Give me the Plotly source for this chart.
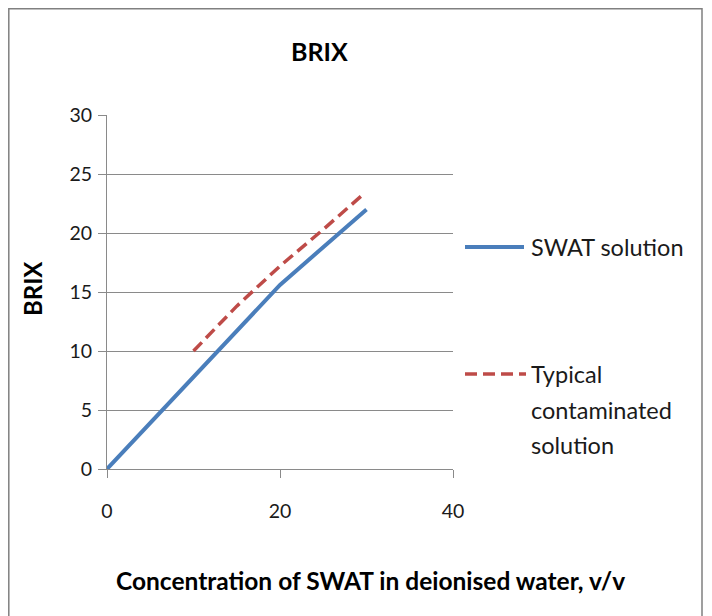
import plotly.graph_objects as go

# Data
swat_x = [0, 10, 20, 30]
swat_y = [0, 7.8, 15.6, 22.0]
typ_x = [10, 15, 20, 25, 29.5]
typ_y = [10, 13.8, 17.2, 20.3, 23.2]
x_ticks = [0, 20, 40]
y_ticks = [0, 5, 10, 15, 20, 25, 30]

SWAT_NAME = "SWAT solution"
TYP_LINES = ["Typical", "contaminated", "solution"]

# page body has an 8px margin; work in screen coordinates and shift
OFF = 8
W, H = 712 - OFF, 616 - OFF
L, R, T, B = 107 - OFF, 453 - OFF, 115 - OFF, 469 - OFF
pw, ph = R - L, B - T

def px(sx):
    return (sx - OFF - L) / pw

def py(sy):
    return (B - (sy - OFF)) / ph

FONT = "Lato"
BLUE = "#4a7ebb"
RED = "#be4b48"
DASH = "12px,6px"
TXT = "#1a1a1a"

fig = go.Figure()
fig.add_trace(go.Scatter(x=swat_x, y=swat_y, mode="lines", name=SWAT_NAME,
                         line=dict(color=BLUE, width=4), showlegend=False))
fig.add_trace(go.Scatter(x=typ_x, y=typ_y, mode="lines", name=" ".join(TYP_LINES),
                         line=dict(color=RED, width=3.5, dash=DASH), showlegend=False))

axcol = "#8a8a8a"

annotations = [
    dict(text="<b>BRIX</b>", x=px(319), y=py(51), xref="paper", yref="paper",
         xanchor="center", yanchor="middle",
         showarrow=False, font=dict(size=25, family=FONT, color="#000")),
    dict(text="<b>BRIX</b>", x=px(32), y=py(289), xref="paper", yref="paper",
         xanchor="center", yanchor="middle",
         showarrow=False, textangle=-90, font=dict(size=24, family=FONT, color="#000")),
    dict(text="<b>Concentration of SWAT in deionised water, v/v</b>", x=px(370), y=py(580),
         xref="paper", yref="paper", xanchor="center", yanchor="middle", showarrow=False,
         font=dict(size=24.5, family=FONT, color="#000")),
    dict(text=SWAT_NAME, x=px(529), y=py(247), xref="paper", yref="paper",
         xanchor="left", yanchor="middle", showarrow=False,
         font=dict(size=23.5, family=FONT, color=TXT)),
]
for i, t in enumerate(TYP_LINES):
    annotations.append(dict(text=t, x=px(529), y=py(374 + 35.5 * i), xref="paper", yref="paper",
                            xanchor="left", yanchor="middle", showarrow=False,
                            font=dict(size=23.5, family=FONT, color=TXT)))

shapes = [
    dict(type="rect", xref="paper", yref="paper", x0=px(8.8), x1=px(702), y0=py(640), y1=py(8.8),
         line=dict(color="#808080", width=1.5)),
    dict(type="line", xref="paper", yref="paper", x0=px(465), x1=px(524), y0=py(247), y1=py(247),
         line=dict(color=BLUE, width=4)),
    dict(type="line", xref="paper", yref="paper", x0=px(465), x1=px(526), y0=py(374), y1=py(374),
         line=dict(color=RED, width=3.5, dash=DASH)),
]

fig.update_layout(
    width=W, height=H,
    margin=dict(l=L, r=W - R, t=T, b=H - B, pad=0),
    paper_bgcolor="white", plot_bgcolor="white",
    font=dict(family=FONT, color=TXT),
    showlegend=False,
    xaxis=dict(range=[0, 40], tickvals=x_ticks, showgrid=False, zeroline=False,
               showline=True, linecolor=axcol, linewidth=1,
               ticks="outside", ticklen=8, tickcolor=axcol, ticklabelstandoff=17,
               tickfont=dict(size=19.5, family=FONT, color=TXT)),
    yaxis=dict(range=[0, 30], tickvals=y_ticks, showgrid=True, gridcolor=axcol, gridwidth=1,
               zeroline=False, showline=True, linecolor=axcol, linewidth=1,
               ticks="outside", ticklen=8, tickcolor=axcol, ticklabelstandoff=2,
               tickfont=dict(size=19.5, family=FONT, color=TXT)),
    annotations=annotations,
    shapes=shapes,
)
fig.write_html("out.html")
